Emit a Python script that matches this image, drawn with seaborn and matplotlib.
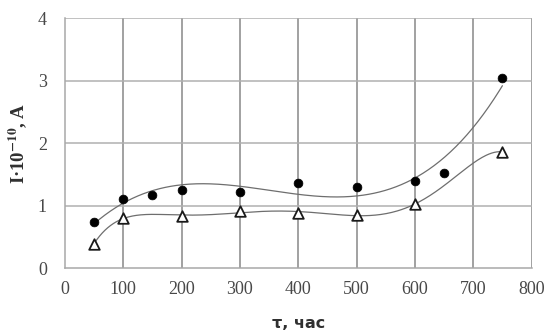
import numpy as np
import pandas as pd
import matplotlib
matplotlib.use('Agg')
import matplotlib.pyplot as plt
import seaborn as sns

# data
t_circ = [50, 100, 150, 200, 300, 400, 500, 600, 650, 750]
i_circ = [0.74, 1.10, 1.17, 1.25, 1.21, 1.36, 1.30, 1.39, 1.52, 3.04]
t_tri = [50, 100, 200, 300, 400, 500, 600, 750]
i_tri = [0.39, 0.80, 0.83, 0.91, 0.88, 0.85, 1.02, 1.86]
x_ticks = [0, 100, 200, 300, 400, 500, 600, 700, 800]
y_ticks = [0, 1, 2, 3, 4]

sns.set_style('white')
plt.rcParams['font.family'] = ['Liberation Serif', 'DejaVu Serif']
plt.rcParams['mathtext.fontset'] = 'stix'

fig = plt.figure(figsize=(5.48, 3.31), dpi=100)
ax = fig.add_axes([0.1186, 0.1903, 0.8514, 0.7553])

# polynomial trend lines (spreadsheet-style): cubic for circles, 6th order for triangles
tt = np.linspace(50, 750, 300)
p_circ = np.polyfit(t_circ, i_circ, 3)
p_tri = np.polyfit(t_tri, i_tri, 6)
fit = pd.DataFrame({'t': np.concatenate([tt, tt]),
                    'I': np.concatenate([np.polyval(p_circ, tt), np.polyval(p_tri, tt)]),
                    'ser': ['c'] * len(tt) + ['t'] * len(tt)})
sns.lineplot(data=fit, x='t', y='I', units='ser', estimator=None, color='#6e6e6e',
             lw=0.9, ax=ax, zorder=3)

sns.scatterplot(x=t_circ, y=i_circ, marker='o', s=40, color='black', edgecolor='black',
                ax=ax, zorder=5)
sns.scatterplot(x=t_tri, y=i_tri, marker='^', s=58, facecolor='white', edgecolor='#1a1a1a',
                linewidth=1.3, ax=ax, zorder=5)

ax.set_xlim(0, 800)
ax.set_ylim(0, 4)
ax.set_xticks(x_ticks)
ax.set_yticks(y_ticks)
for x in x_ticks[1:]:
    ax.axvline(x, color='#888888', lw=1.1, zorder=1)
for y in y_ticks[1:]:
    ax.axhline(y, color='#b0b0b0', lw=1.1, zorder=1)
for s in ['top', 'right']:
    ax.spines[s].set_visible(False)
ax.spines['left'].set_color('#a8a8a8')
ax.spines['bottom'].set_color('#a8a8a8')
ax.spines['left'].set_linewidth(1.1)
ax.spines['bottom'].set_linewidth(1.1)
ax.tick_params(axis='both', direction='out', length=5, width=1.1, color='#a8a8a8',
               labelsize=13, labelcolor='#484848', pad=4)
ax.tick_params(axis='y', pad=8)

ax.set_xlabel('τ, час', fontsize=11.5, fontweight='bold', family=['DejaVu Sans'],
              color='#303030', labelpad=13)
ax.set_ylabel(r'I·10$^{\mathbf{-10}}$, A', fontsize=13.5, fontweight='bold',
              color='#303030', labelpad=6)

fig.savefig('out.png', dpi=100)
